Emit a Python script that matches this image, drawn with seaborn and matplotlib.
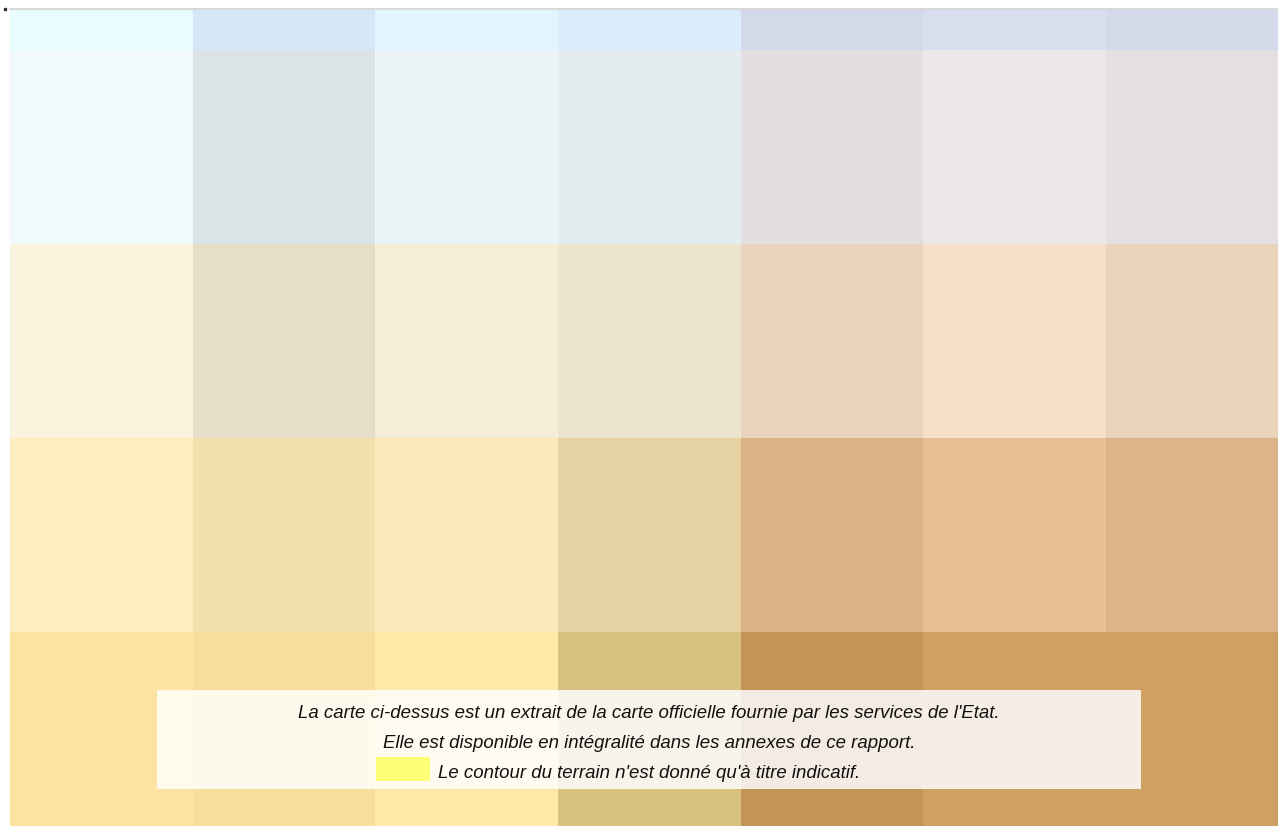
import numpy as np
import matplotlib
matplotlib.use("Agg")
import matplotlib.pyplot as plt
from matplotlib.colors import ListedColormap
from matplotlib.patches import Rectangle
import seaborn as sns

# Tile colours of the map extract, row by row (top to bottom), 7 columns each
row0 = ["#E8FDFF", "#D6E7F6", "#E3F5FE", "#DBECFC", "#D2D9E9", "#D8DEEE", "#D4DAEA"]
row1 = ["#F0F9FB", "#DAE3E5", "#EAF3F5", "#E3ECEE", "#E3DFE0", "#ECE8E9", "#E4E0E1"]
row2 = ["#FAF4DF", "#E5DFC7", "#F4EED7", "#EBE5CD", "#E9D5BD", "#F5E1CA", "#E9D4BB"]
row3 = ["#FEEDBF", "#F2DFAE", "#FEE9BB", "#E5D1A1", "#DAB486", "#E6C094", "#DBB487"]
row4 = ["#FCE3A1", "#F8DE9A", "#FFE9A8", "#D9C17F", "#C29456", "#D0A063", "#D0A063"]
rows = [row0, row1, row2, row3, row4]

caption_lines = [
    "La carte ci-dessus est un extrait de la carte officielle fournie par les services de l'Etat.",
    "Elle est disponible en intégralité dans les annexes de ce rapport.",
    "Le contour du terrain n'est donné qu'à titre indicatif.",
]
legend_color = "#FFFF77"

palette = [c for r in rows for c in r]
idx = np.arange(len(palette)).reshape(len(rows), len(row0))

W, H = 1278, 826
fig = plt.figure(figsize=(W / 100, H / 100), dpi=100)
ax = fig.add_axes([10 / W, 0, 1268 / W, 816 / H])
sns.heatmap(idx, cmap=ListedColormap(palette), vmin=-0.5, vmax=len(palette) - 0.5,
            cbar=False, ax=ax, xticklabels=False, yticklabels=False, linewidths=0)
cell_w = 182.7
cell_h = 194.0
ax.set_xlim(0, 1268 / cell_w)
ax.set_ylim(len(rows), len(rows) - 816 / cell_h)
for s in ax.spines.values():
    s.set_visible(False)

# thin top border line and small dot
fig.add_artist(plt.Line2D([10 / W, 1], [1 - 9 / H, 1 - 9 / H], color="#D8D8D8", lw=1.5))
fig.add_artist(Rectangle((4 / W, 1 - 10 / H), 2 / W, 2 / H, color="#333333", transform=fig.transFigure))

# caption box
fig.add_artist(Rectangle((157 / W, 1 - 789 / H), (1141 - 157) / W, (789 - 690) / H,
                         facecolor="white", alpha=0.83, edgecolor="none", transform=fig.transFigure))
fs = 13.4
cx = 649 / W
fig.text(cx, 1 - 714 / H, caption_lines[0], ha="center", va="center", fontsize=fs,
         style="italic", family="Liberation Sans", color="#111111")
fig.text(cx, 1 - 743 / H, caption_lines[1], ha="center", va="center", fontsize=fs,
         style="italic", family="Liberation Sans", color="#111111")
fig.add_artist(Rectangle((376 / W, 1 - 781 / H), 54 / W, 24 / H, facecolor=legend_color,
                         edgecolor="none", transform=fig.transFigure))
fig.text(438 / W, 1 - 773 / H, caption_lines[2], ha="left", va="center", fontsize=fs,
         style="italic", family="Liberation Sans", color="#111111")

fig.savefig("out.png", dpi=100)
